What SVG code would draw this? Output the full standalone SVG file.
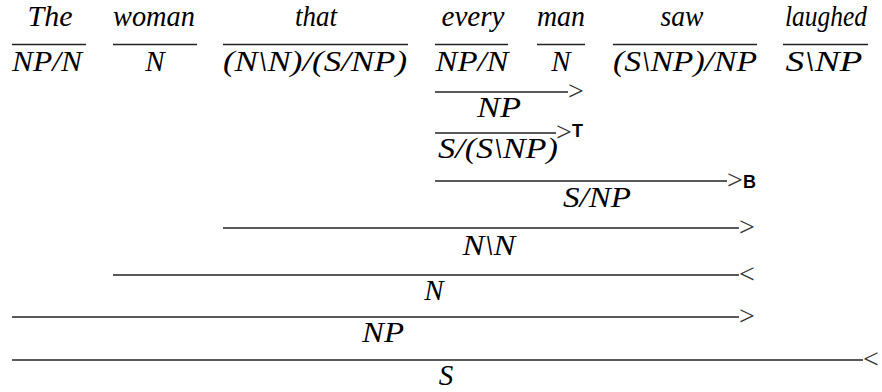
<svg xmlns="http://www.w3.org/2000/svg" width="882" height="392" viewBox="0 0 882 392">
<style>
text{font-family:"Liberation Serif","Times New Roman",serif;font-style:italic;font-size:29px;fill:#000;text-anchor:middle}
.op{font-style:normal;font-size:28px;text-anchor:start;fill:#333}
.sup{font-family:"Liberation Sans",Arial,sans-serif;font-style:normal;font-weight:bold;font-size:18px;text-anchor:start;fill:#000}
line{stroke:#222;stroke-width:1.3}
</style>
<rect width="882" height="392" fill="#fff"/>
<g id="w-the"><text x="50" y="26" textLength="45" lengthAdjust="spacingAndGlyphs">The</text><line x1="12" y1="44.5" x2="86" y2="44.5"/><text x="47" y="71" textLength="70" lengthAdjust="spacingAndGlyphs">NP/N</text></g>
<g id="w-woman"><text x="154" y="26" textLength="82" lengthAdjust="spacingAndGlyphs">woman</text><line x1="113" y1="44.5" x2="197" y2="44.5"/><text x="155" y="71">N</text></g>
<g id="w-that"><text x="316" y="26" textLength="42" lengthAdjust="spacingAndGlyphs">that</text><line x1="223" y1="44.5" x2="408" y2="44.5"/><text x="315" y="71" textLength="184" lengthAdjust="spacingAndGlyphs">(N\N)/(S/NP)</text></g>
<g id="w-every"><text x="473" y="26" textLength="63" lengthAdjust="spacingAndGlyphs">every</text><line x1="435" y1="44.5" x2="508" y2="44.5"/><text x="472" y="71" textLength="73" lengthAdjust="spacingAndGlyphs">NP/N</text></g>
<g id="w-man"><text x="561" y="26" textLength="48" lengthAdjust="spacingAndGlyphs">man</text><line x1="537" y1="44.5" x2="585" y2="44.5"/><text x="561" y="71">N</text></g>
<g id="w-saw"><text x="682" y="26" textLength="43" lengthAdjust="spacingAndGlyphs">saw</text><line x1="613" y1="44.5" x2="757" y2="44.5"/><text x="685" y="71" textLength="144" lengthAdjust="spacingAndGlyphs">(S\NP)/NP</text></g>
<g id="w-laughed"><text x="826" y="26" textLength="82" lengthAdjust="spacingAndGlyphs">laughed</text><line x1="783" y1="44.5" x2="868" y2="44.5"/><text x="824" y="71" textLength="77" lengthAdjust="spacingAndGlyphs">S\NP</text></g>
<g id="connectors">
<g id="d1"><line x1="435" y1="92" x2="568" y2="92"/><text class="op" x="568" y="100">&gt;</text><text x="499" y="117" textLength="44" lengthAdjust="spacingAndGlyphs">NP</text></g>
<g id="d2"><line x1="435" y1="133" x2="556" y2="133"/><text class="op" x="556" y="141">&gt;</text><text class="sup" x="572" y="137">T</text><text x="498" y="158" textLength="120" lengthAdjust="spacingAndGlyphs">S/(S\NP)</text></g>
<g id="d3"><line x1="435" y1="181" x2="727" y2="181"/><text class="op" x="727" y="189">&gt;</text><text class="sup" x="743" y="188">B</text><text x="597" y="207" textLength="68" lengthAdjust="spacingAndGlyphs">S/NP</text></g>
<g id="d4"><line x1="223" y1="228" x2="739" y2="228"/><text class="op" x="739" y="236">&gt;</text><text x="489" y="255" textLength="53" lengthAdjust="spacingAndGlyphs">N\N</text></g>
<g id="d5"><line x1="113" y1="275" x2="739" y2="275"/><text class="op" x="739" y="283">&lt;</text><text x="434" y="300">N</text></g>
<g id="d6"><line x1="12" y1="317" x2="739" y2="317"/><text class="op" x="739" y="325">&gt;</text><text x="383" y="342" textLength="42" lengthAdjust="spacingAndGlyphs">NP</text></g>
<g id="d7"><line x1="12" y1="360" x2="863" y2="360"/><text class="op" x="863" y="368">&lt;</text><text x="446" y="385">S</text></g>
</g>
</svg>
